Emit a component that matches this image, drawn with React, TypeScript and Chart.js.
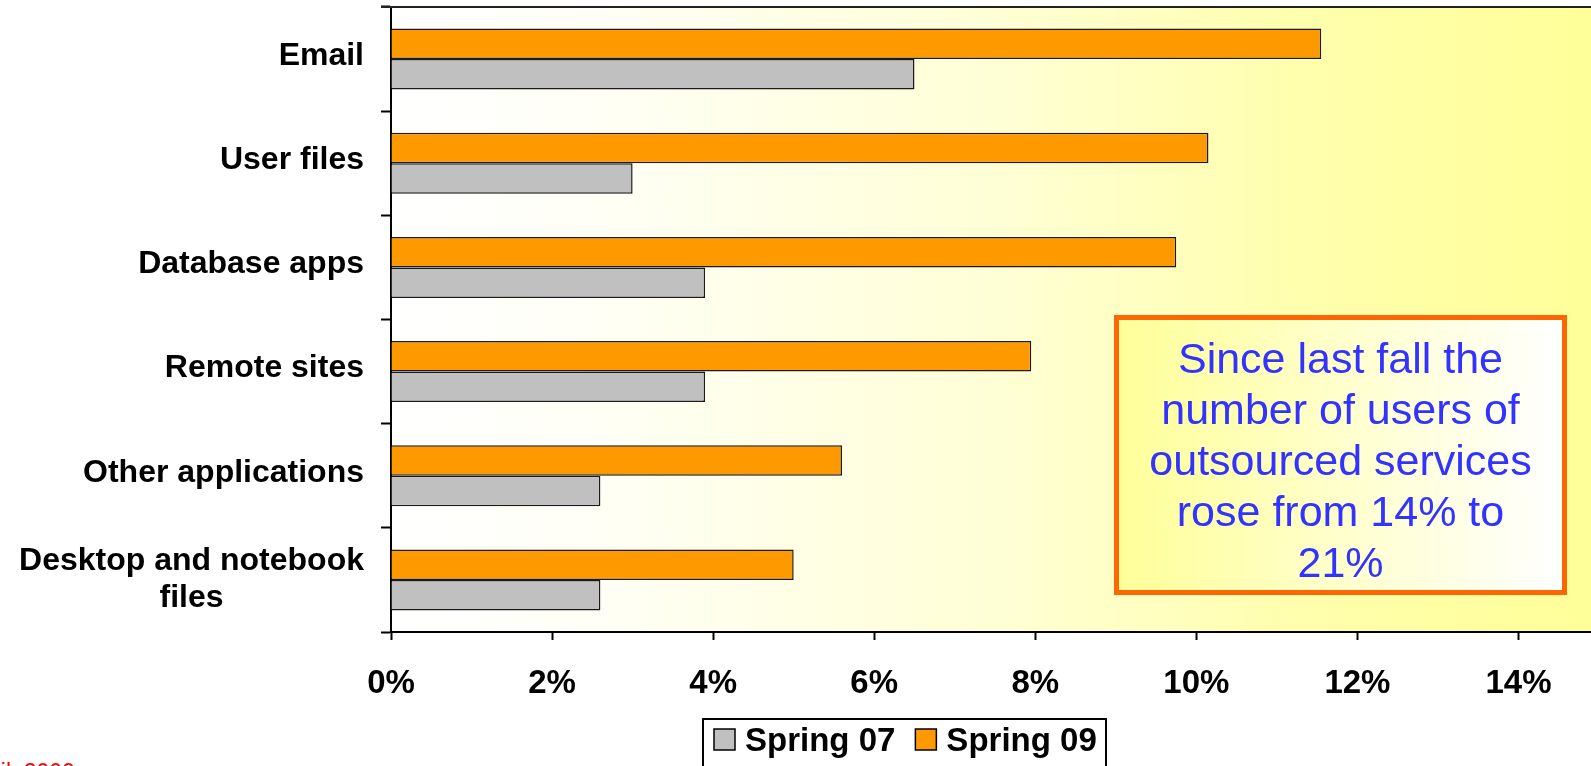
import React, { useEffect, useRef } from "react";
import { Chart, registerables } from "chart.js";

Chart.register(...registerables);

// Usage of outsourced services by area
const categories: (string | string[])[] = [
  "Email",
  "User files",
  "Database apps",
  "Remote sites",
  "Other applications",
  ["Desktop and notebook", "files"],
];
const spring07 = [6.5, 3.0, 3.9, 3.9, 2.6, 2.6];
const spring09 = [11.55, 10.15, 9.75, 7.95, 5.6, 5.0];
const seriesLabels = ["Spring 07", "Spring 09"];
const xTickValues = [0, 2, 4, 6, 8, 10, 12, 14];
const xMax = 14.9;

const noteLines = [
  "Since last fall the",
  "number of users of",
  "outsourced services",
  "rose from 14% to",
  "21%",
];
const footnote = "April, 2009";

const FONT = "'Liberation Sans', Arial, Helvetica, sans-serif";
const GRAY = "#C0C0C0";
const ORANGE = "#FF9900";

const decorations = {
  id: "decorations",
  beforeDraw(chart: any) {
    const { ctx, chartArea: a, width, height } = chart;
    ctx.save();
    ctx.fillStyle = "#FFFFFF";
    ctx.fillRect(0, 0, width, height);
    const g = ctx.createLinearGradient(a.left, 0, a.right, 0);
    g.addColorStop(0, "#FFFFFF");
    g.addColorStop(0.17, "#FFFFF6");
    g.addColorStop(0.5, "#FFFFD6");
    g.addColorStop(0.75, "#FFFFAE");
    g.addColorStop(1, "#FFFF99");
    ctx.fillStyle = g;
    ctx.fillRect(a.left, a.top, a.right - a.left, a.bottom - a.top);
    ctx.restore();
  },
  afterDraw(chart: any) {
    const { ctx, chartArea: a } = chart;
    const yScale = chart.scales.y;
    ctx.save();

    // top frame line of the plot area
    ctx.strokeStyle = "#222222";
    ctx.lineWidth = 2;
    ctx.beginPath();
    ctx.moveTo(a.left - 10, a.top);
    ctx.lineTo(a.right, a.top);
    ctx.stroke();

    // category labels
    ctx.fillStyle = "#000000";
    ctx.font = `bold 32px ${FONT}`;
    ctx.textBaseline = "middle";
    const labelRight = 364;
    const lh = 37;
    categories.forEach((lab, i) => {
      const yc = yScale.getPixelForValue(i);
      const lines = Array.isArray(lab) ? lab : [lab];
      if (lines.length === 1) {
        ctx.textAlign = "right";
        ctx.fillText(lines[0], labelRight, yc - 3);
      } else {
        const maxW = Math.max(...lines.map((l) => ctx.measureText(l).width));
        const cx = labelRight - maxW / 2;
        ctx.textAlign = "center";
        lines.forEach((l, k) => {
          ctx.fillText(l, cx, yc - ((lines.length - 1) * lh) / 2 + k * lh);
        });
      }
    });

    // call-out box
    const bx = 1116.5, by = 317.5, bw = 448, bh = 275;
    const bg = ctx.createLinearGradient(bx, 0, bx + bw, 0);
    bg.addColorStop(0, "#FFFF99");
    bg.addColorStop(1, "#FFFFFF");
    ctx.fillStyle = bg;
    ctx.fillRect(bx, by, bw, bh);
    ctx.strokeStyle = "#FF6600";
    ctx.lineWidth = 5;
    ctx.strokeRect(bx, by, bw, bh);
    ctx.fillStyle = "#3333FF";
    ctx.font = `43px ${FONT}`;
    ctx.textAlign = "center";
    ctx.textBaseline = "alphabetic";
    noteLines.forEach((l, k) => {
      ctx.fillText(l, bx + bw / 2, 373 + k * 51);
    });

    // legend
    ctx.lineWidth = 2;
    ctx.strokeStyle = "#000000";
    ctx.fillStyle = "#FFFFFF";
    ctx.fillRect(703, 719, 403, 80);
    ctx.strokeRect(703, 719, 403, 80);
    ctx.font = `bold 33px ${FONT}`;
    ctx.textAlign = "left";
    let lx = 714;
    seriesLabels.forEach((name) => {
      const ds = chart.data.datasets.find((d: any) => d.label === name);
      ctx.fillStyle = ds.backgroundColor;
      ctx.fillRect(lx, 729, 21, 21);
      ctx.lineWidth = 1.5;
      ctx.strokeStyle = "#000000";
      ctx.strokeRect(lx, 729, 21, 21);
      ctx.fillStyle = "#000000";
      ctx.fillText(name, lx + 31, 751);
      lx += 31 + ctx.measureText(name).width + 20;
    });

    // source line
    ctx.fillStyle = "#FF0000";
    ctx.font = `23px ${FONT}`;
    ctx.textAlign = "left";
    ctx.fillText(footnote, -35, 780);

    ctx.restore();
  },
};

export default function App() {
  const ref = useRef<HTMLCanvasElement | null>(null);

  useEffect(() => {
    if (!ref.current) return;
    const chart = new Chart(ref.current, {
      type: "bar",
      data: {
        labels: categories,
        datasets: [
          {
            label: seriesLabels[1],
            data: spring09,
            backgroundColor: ORANGE,
            borderColor: "#1A1A1A",
            borderWidth: 1.5,
          },
          {
            label: seriesLabels[0],
            data: spring07,
            backgroundColor: GRAY,
            borderColor: "#1A1A1A",
            borderWidth: 1.5,
          },
        ],
      },
      options: {
        indexAxis: "y",
        responsive: false,
        animation: false,
        layout: { padding: { top: 7, left: 0, right: 0, bottom: 0 } },
        datasets: { bar: { categoryPercentage: 0.585, barPercentage: 1 } },
        plugins: { legend: { display: false }, tooltip: { enabled: false } },
        scales: {
          x: {
            min: 0,
            max: xMax,
            afterFit: (s: any) => {
              s.height = 134;
            },
            afterBuildTicks: (s: any) => {
              s.ticks = xTickValues.map((v) => ({ value: v }));
            },
            ticks: {
              autoSkip: false,
              color: "#000000",
              padding: 24,
              font: { family: FONT, size: 33, weight: "bold" },
              callback: (v: any) => `${v}%`,
            },
            grid: {
              drawOnChartArea: false,
              color: "#000000",
              tickLength: 8,
              tickWidth: 2,
            },
            border: { color: "#000000", width: 2 },
          },
          y: {
            afterFit: (s: any) => {
              s.width = 391;
            },
            ticks: { display: false },
            grid: {
              offset: true,
              drawOnChartArea: false,
              color: "#000000",
              tickLength: 10,
              tickWidth: 2,
            },
            border: { color: "#000000", width: 2 },
          },
        },
      },
      plugins: [decorations],
    });
    return () => chart.destroy();
  }, []);

  return (
    <div style={{ position: "absolute", left: 0, top: 0, width: 1591, height: 766, overflow: "hidden" }}>
      <canvas ref={ref} width={1591} height={766} style={{ display: "block" }} />
    </div>
  );
}
